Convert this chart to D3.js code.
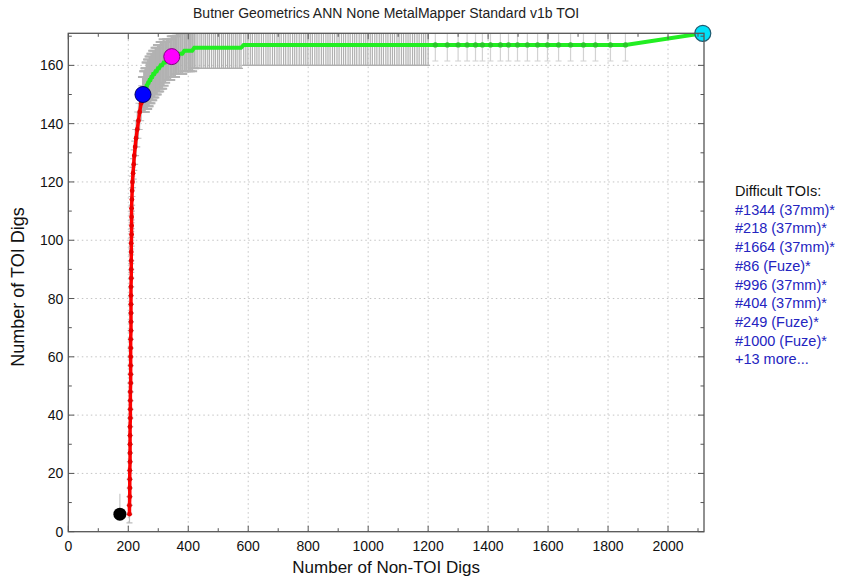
<!DOCTYPE html>
<html>
<head>
<meta charset="utf-8">
<script src="https://cdn.jsdelivr.net/npm/d3@7"></script>
<style>
  body { margin: 0; background: #fff; }
  text { font-family: "Liberation Sans", Arial, sans-serif; }
  .tick-label { font-size: 14px; fill: #111; }
</style>
</head>
<body>
<div id="chart"></div>
<script>
// ---- data ----
const titleText = "Butner Geometrics ANN None MetalMapper Standard v1b TOI";
const xLabel = "Number of Non-TOI Digs";
const yLabel = "Number of TOI Digs";

const xTicks = [0, 200, 400, 600, 800, 1000, 1200, 1400, 1600, 1800, 2000];
const yTicks = [0, 20, 40, 60, 80, 100, 120, 140, 160];

// first dig (black) before the red segment
const startPoint = {x: 172, y: 6, err: 7};

// red segment: non-TOI digs vs TOI digs
const redX = [204, 204, 205, 205, 205, 205, 206, 206, 206, 206, 206, 207, 207, 207, 207, 208, 208,
              208, 208, 208, 208, 209, 209, 209, 209, 209, 209, 210, 210, 210, 210, 210, 211, 211,
              211, 211, 212, 213, 214, 216, 218, 220, 223, 226, 230, 234, 238, 243, 249];
const redY = [6, 9, 12, 15, 18, 21, 24, 27, 30, 33, 36, 39, 42, 45, 48, 51, 54,
              57, 60, 63, 66, 69, 72, 75, 78, 81, 84, 87, 90, 93, 96, 99, 102, 105,
              108, 111, 114, 117, 120, 123, 126, 129, 132, 135, 138, 141, 144, 147, 150];
const redErr = [3, 3, 3, 3, 3, 3, 3, 3, 3, 3, 3, 3, 3, 3, 3, 3, 3,
                3, 3, 3, 3, 3, 3, 3, 3, 3, 3, 3, 3, 4, 4, 4, 4, 4,
                4, 4, 4, 5, 5, 5, 5, 5, 6, 6, 6, 6, 6, 6, 6];

// green segment, curved part
const greenCurveX = [249, 251, 253, 255, 257, 259, 261, 263, 266, 268, 271, 274, 277, 280, 283, 287,
                     291, 295, 299, 303, 308, 313, 318, 323, 329, 334, 340, 345, 350, 356, 362, 368,
                     374, 380, 387, 393, 400, 406, 413, 420];
const greenCurveY = [150, 150, 151, 151, 152, 152, 153, 153, 154, 154, 155, 155, 156, 156, 157, 157,
                     158, 158, 159, 159, 160, 160, 161, 161, 162, 162, 162, 163, 163, 163, 164, 164,
                     164, 164, 165, 165, 165, 165, 165, 166];
const greenCurveErr = [6, 6, 7, 7, 7, 7, 8, 8, 8, 8, 8, 8, 8, 8, 8, 8,
                       8, 8, 8, 8, 8, 8, 8, 7, 7, 7, 7, 7, 7, 7, 7, 7,
                       7, 7, 7, 7, 7, 7, 7, 7];
// green segment, flat at 166 and 167 (dense error bars)
const green166X = [426, 432, 439, 445, 452, 458, 465, 471, 478, 485, 491, 498, 504, 511, 517, 524,
                   531, 537, 544, 550, 557, 563, 570, 576];
const green167X = [585, 592, 599, 607, 614, 622, 629, 636, 644, 651, 659, 666, 673, 681, 688, 696,
                   703, 710, 718, 725, 733, 740, 748, 755, 762, 770, 777, 785, 792, 799, 807, 814,
                   822, 829, 836, 844, 851, 859, 866, 873, 881, 888, 896, 903, 911, 918, 925, 933,
                   940, 948, 955, 962, 970, 977, 985, 992, 999, 1007, 1014, 1022, 1029, 1037, 1044,
                   1051, 1059, 1066, 1074, 1081, 1088, 1096, 1103, 1111, 1118, 1126, 1133, 1140,
                   1148, 1155, 1163, 1170, 1178, 1185, 1192, 1200];
const denseErr = 7;
// green segment, sparse digs with markers
const greenSparseX = [1224, 1264, 1300, 1330, 1358, 1381, 1408, 1441, 1468, 1498, 1531, 1565,
                      1598, 1635, 1675, 1718, 1758, 1808, 1858];
const sparseY = 167;
const sparseErr = 5.5;

// highlighted operating points
const blueMark = {x: 249, y: 150};
const magentaMark = {x: 345, y: 163};
const cyanMark = {x: 2116, y: 171};

const legendTitle = "Difficult TOIs:";
const difficultTois = ["#1344 (37mm)*", "#218 (37mm)*", "#1664 (37mm)*", "#86 (Fuze)*",
                       "#996 (37mm)*", "#404 (37mm)*", "#249 (Fuze)*", "#1000 (Fuze)*", "+13 more..."];

// ---- drawing ----
const W = 860, H = 582;
const margin = {top: 33.3, right: 156, bottom: 50.3, left: 68.3};
const xMax = 2120, yMax = 171;

const svg = d3.select("#chart").append("svg")
    .attr("width", W)
    .attr("height", H);

const x = d3.scaleLinear().domain([0, xMax]).range([margin.left, W - margin.right]);
const y = d3.scaleLinear().domain([0, yMax]).range([H - margin.bottom, margin.top]);

svg.append("defs").append("clipPath").attr("id", "plotclip")
    .append("rect")
    .attr("x", x(0)).attr("y", y(yMax))
    .attr("width", x(xMax) - x(0)).attr("height", y(0) - y(yMax));

// grid
const grid = svg.append("g");
grid.selectAll(".gx").data(xTicks.slice(1)).enter().append("line")
    .attr("x1", d => x(d)).attr("x2", d => x(d))
    .attr("y1", y(0)).attr("y2", y(yMax))
    .attr("stroke", "#c4c4c4").attr("stroke-width", 1).attr("stroke-dasharray", "1.5,3");
grid.selectAll(".gy").data(yTicks.slice(1)).enter().append("line")
    .attr("x1", x(0)).attr("x2", x(xMax))
    .attr("y1", d => y(d)).attr("y2", d => y(d))
    .attr("stroke", "#c4c4c4").attr("stroke-width", 1).attr("stroke-dasharray", "1.5,3");

const plot = svg.append("g").attr("clip-path", "url(#plotclip)");

const redData = redX.map((v, i) => ({x: v, y: redY[i], err: redErr[i]}));
const curveData = greenCurveX.map((v, i) => ({x: v, y: greenCurveY[i], err: greenCurveErr[i]}));
const denseData = green166X.map(v => ({x: v, y: 166, err: denseErr}))
    .concat(green167X.map(v => ({x: v, y: 167, err: denseErr})));
const sparseData = greenSparseX.map(v => ({x: v, y: sparseY, err: sparseErr}));
const greenData = curveData.concat(denseData, sparseData, [{x: cyanMark.x, y: cyanMark.y, err: 0}]);

// error bars
function errorBars(data, color, cap, width) {
    const g = plot.append("g").attr("stroke", color).attr("stroke-width", width);
    data.forEach(d => {
        g.append("line")
            .attr("x1", x(d.x)).attr("x2", x(d.x))
            .attr("y1", y(d.y - d.err)).attr("y2", y(d.y + d.err));
        g.append("line")
            .attr("x1", x(d.x) - cap).attr("x2", x(d.x) + cap)
            .attr("y1", y(d.y - d.err)).attr("y2", y(d.y - d.err));
        g.append("line")
            .attr("x1", x(d.x) - cap).attr("x2", x(d.x) + cap)
            .attr("y1", y(d.y + d.err)).attr("y2", y(d.y + d.err));
    });
}
errorBars(redData, "#bcbcbc", 3, 1.2);
errorBars(curveData, "#b2b2b2", 5, 2);
errorBars(denseData, "#b0b0b0", 2, 1.2);
errorBars(sparseData, "#d2d2d2", 3, 1.2);

// first dig error bar (upward only)
plot.append("line")
    .attr("x1", x(startPoint.x)).attr("x2", x(startPoint.x))
    .attr("y1", y(startPoint.y)).attr("y2", y(startPoint.y + startPoint.err))
    .attr("stroke", "#c8c8c8").attr("stroke-width", 1.2);

const line = d3.line().x(d => x(d.x)).y(d => y(d.y));

plot.append("path").datum(redData)
    .attr("d", line).attr("fill", "none")
    .attr("stroke", "#ff0000").attr("stroke-width", 3.5);
plot.selectAll(".rdot").data(redData).enter().append("circle")
    .attr("cx", d => x(d.x)).attr("cy", d => y(d.y)).attr("r", 2.4)
    .attr("fill", "#e80000");

plot.append("path").datum(greenData)
    .attr("d", line).attr("fill", "none")
    .attr("stroke", "#22ee22").attr("stroke-width", 4);
plot.selectAll(".gdot").data(sparseData).enter().append("circle")
    .attr("cx", d => x(d.x)).attr("cy", d => y(d.y)).attr("r", 2.6)
    .attr("fill", "#28c828");

// special markers
svg.append("circle").attr("cx", x(startPoint.x)).attr("cy", y(startPoint.y)).attr("r", 6.5)
    .attr("fill", "#000");
svg.append("circle").attr("cx", x(blueMark.x)).attr("cy", y(blueMark.y)).attr("r", 8)
    .attr("fill", "#0000ff").attr("stroke", "#000060").attr("stroke-width", 1);
svg.append("circle").attr("cx", x(magentaMark.x)).attr("cy", y(magentaMark.y)).attr("r", 8)
    .attr("fill", "#ff00ff").attr("stroke", "#800080").attr("stroke-width", 1);
svg.append("circle").attr("cx", x(cyanMark.x)).attr("cy", y(cyanMark.y)).attr("r", 8)
    .attr("fill", "#00e0f8").attr("stroke", "#205a70").attr("stroke-width", 1.2);

// axes box with inward ticks on all four sides
const axisColor = "#555";
const xMinor = d3.range(100, xMax, 200);
const yMinor = d3.range(10, yMax, 20);

function tickSet(vals, len, orient) {
    const g = svg.append("g").attr("stroke", axisColor).attr("stroke-width", 1);
    vals.forEach(v => {
        if (orient === "x") {
            g.append("line").attr("x1", x(v)).attr("x2", x(v)).attr("y1", y(0)).attr("y2", y(0) - len);
            g.append("line").attr("x1", x(v)).attr("x2", x(v)).attr("y1", y(yMax)).attr("y2", y(yMax) + len);
        } else {
            g.append("line").attr("y1", y(v)).attr("y2", y(v)).attr("x1", x(0)).attr("x2", x(0) + len);
            g.append("line").attr("y1", y(v)).attr("y2", y(v)).attr("x1", x(xMax)).attr("x2", x(xMax) - len);
        }
    });
}
tickSet(xTicks, 6, "x");
tickSet(xMinor, 3.5, "x");
tickSet(yTicks, 6, "y");
tickSet(yMinor, 3.5, "y");

svg.append("rect")
    .attr("x", x(0)).attr("y", y(yMax))
    .attr("width", x(xMax) - x(0)).attr("height", y(0) - y(yMax))
    .attr("fill", "none").attr("stroke", axisColor).attr("stroke-width", 1.3);

// tick labels
svg.append("g").selectAll("text").data(xTicks).enter().append("text")
    .attr("class", "tick-label")
    .attr("x", d => x(d)).attr("y", y(0) + 19)
    .attr("text-anchor", "middle")
    .text(d => d);
svg.append("g").selectAll("text").data(yTicks).enter().append("text")
    .attr("class", "tick-label")
    .attr("x", x(0) - 5).attr("y", d => y(d) + 5)
    .attr("text-anchor", "end")
    .text(d => d);

// title and axis labels
svg.append("text")
    .attr("x", (x(0) + x(xMax)) / 2).attr("y", 18)
    .attr("text-anchor", "middle")
    .style("font-size", "14px").style("fill", "#222")
    .text(titleText);
svg.append("text")
    .attr("class", "tick-label")
    .attr("x", (x(0) + x(xMax)) / 2).attr("y", 573)
    .attr("text-anchor", "middle")
    .style("font-size", "17px")
    .text(xLabel);
svg.append("text")
    .attr("class", "tick-label")
    .attr("transform", `translate(24, 287) rotate(-90)`)
    .attr("text-anchor", "middle")
    .style("font-size", "18px")
    .text(yLabel);

// difficult TOI list
const legend = svg.append("g").attr("transform", "translate(735, 196)");
legend.append("text").attr("x", 0).attr("y", 0)
    .style("font-size", "14.5px").style("fill", "#111")
    .text(legendTitle);
legend.selectAll(".toi").data(difficultTois).enter().append("text")
    .attr("x", 0).attr("y", (d, i) => (i + 1) * 18.7)
    .style("font-size", "14.5px").style("fill", "#2424c0")
    .text(d => d);
</script>
</body>
</html>
